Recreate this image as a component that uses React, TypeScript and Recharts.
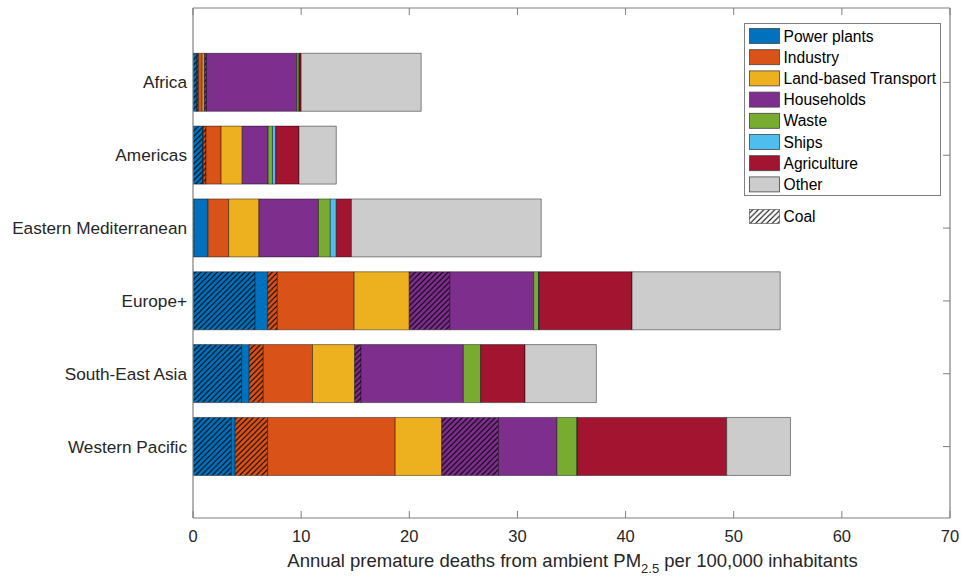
import React from 'react';
import { BarChart, Bar, XAxis, YAxis } from 'recharts';

// WHO regions, top to bottom
const regions = [
  'Africa',
  'Americas',
  'Eastern Mediterranean',
  'Europe+',
  'South-East Asia',
  'Western Pacific',
];

// Annual premature deaths per 100,000 inhabitants by source sector
const powerCoal = [0.35, 0.9, 0.1, 5.75, 4.5, 3.55];
const powerOther = [0.05, 0.05, 1.3, 1.15, 0.7, 0.35];
const industryCoal = [0.1, 0.25, 0, 0.9, 1.3, 3.0];
const industryOther = [0.35, 1.4, 1.9, 7.1, 4.55, 11.8];
const transport = [0.2, 1.95, 2.8, 5.1, 3.9, 4.3];
const householdsCoal = [0.2, 0, 0, 3.75, 0.6, 5.25];
const householdsOther = [8.35, 2.4, 5.5, 7.75, 9.45, 5.4];
const waste = [0.2, 0.4, 1.1, 0.45, 1.6, 1.85];
const ships = [0.05, 0.3, 0.55, 0.05, 0, 0.05];
const agriculture = [0.15, 2.15, 1.4, 8.6, 4.1, 13.8];
const other = [11.1, 3.45, 17.55, 13.7, 6.6, 5.9];

const sectorNames = [
  'Power plants',
  'Industry',
  'Land-based Transport',
  'Households',
  'Waste',
  'Ships',
  'Agriculture',
  'Other',
];
const sectorColors = [
  '#0072BD',
  '#D95319',
  '#EDB120',
  '#7E2F8E',
  '#77AC30',
  '#4DBEEE',
  '#A2142F',
  '#CCCCCC',
];

const xTicks = [0, 10, 20, 30, 40, 50, 60, 70];

// Stacking order; coal shares are drawn hatched in the sector colour
const series = [
  { key: 'powerCoal', values: powerCoal, sector: 0, coal: true },
  { key: 'powerOther', values: powerOther, sector: 0, coal: false },
  { key: 'industryCoal', values: industryCoal, sector: 1, coal: true },
  { key: 'industryOther', values: industryOther, sector: 1, coal: false },
  { key: 'transport', values: transport, sector: 2, coal: false },
  { key: 'householdsCoal', values: householdsCoal, sector: 3, coal: true },
  { key: 'householdsOther', values: householdsOther, sector: 3, coal: false },
  { key: 'waste', values: waste, sector: 4, coal: false },
  { key: 'ships', values: ships, sector: 5, coal: false },
  { key: 'agriculture', values: agriculture, sector: 6, coal: false },
  { key: 'other', values: other, sector: 7, coal: false },
];

const data = regions.map((region, i) => {
  const row: Record<string, string | number> = { region };
  series.forEach((s) => {
    row[s.key] = s.values[i];
  });
  return row;
});

const FONT = '"Liberation Sans", Arial, Helvetica, sans-serif';
const TEXT = '#262626';
const FRAME = '#7f7f7f';
const TICK_LEN = 7;
const HATCH = 5.5;

const hatchPath = `M0,${HATCH} L${HATCH},0 M${-HATCH / 4},${HATCH / 4} L${HATCH / 4},${-HATCH / 4} M${HATCH * 0.75},${HATCH * 1.25} L${HATCH * 1.25},${HATCH * 0.75}`;

const HatchPattern = ({ id, color }: { id: string; color: string }) => (
  <pattern id={id} width={HATCH} height={HATCH} patternUnits="userSpaceOnUse">
    <rect width={HATCH} height={HATCH} fill={color} />
    <path d={hatchPath} stroke="#000" strokeWidth={1.1} />
  </pattern>
);

const BottomTick = (props: any) => {
  const { x, y, payload } = props;
  return (
    <g>
      <line x1={x} y1={y} x2={x} y2={y - TICK_LEN} stroke={FRAME} strokeWidth={1} />
      <text x={x} y={y + 24} textAnchor="middle" fontSize={16.5} fontFamily={FONT} fill={TEXT}>
        {payload.value}
      </text>
    </g>
  );
};

const TopTick = (props: any) => {
  const { x, y } = props;
  return <line x1={x} y1={y} x2={x} y2={y + TICK_LEN} stroke={FRAME} strokeWidth={1} />;
};

const LeftTick = (props: any) => {
  const { x, y, payload } = props;
  return (
    <text x={x} y={y + 6} textAnchor="end" fontSize={17.2} fontFamily={FONT} fill={TEXT}>
      {payload.value}
    </text>
  );
};

const RightTick = (props: any) => {
  const { x, y } = props;
  return <line x1={x - TICK_LEN} y1={y} x2={x} y2={y} stroke={FRAME} strokeWidth={1} />;
};

const AxisTitle = (props: any) => {
  const { viewBox } = props;
  const cx = viewBox.x + viewBox.width / 2 + 1;
  return (
    <text x={cx} y={viewBox.y + 49} textAnchor="middle" fontSize={18.5} fontFamily={FONT} fill={TEXT}>
      Annual premature deaths from ambient PM
      <tspan dy={6} fontSize={13}>2.5</tspan>
      <tspan dy={-6}> per 100,000 inhabitants</tspan>
    </text>
  );
};

const LegendBox = () => {
  const rowH = 21.2;
  return (
    <svg
      width={963}
      height={579}
      style={{ position: 'absolute', left: 0, top: 0, pointerEvents: 'none' }}
    >
      <defs>
        <HatchPattern id="hatch-legend" color="#ffffff" />
      </defs>
      <rect x={744.5} y={23.5} width={196} height={172} fill="#fff" stroke={FRAME} strokeWidth={1} />
      {sectorNames.map((name, i) => {
        const cy = 36 + i * rowH;
        return (
          <g key={name}>
            <rect x={749.5} y={cy - 7.5} width={30} height={15} fill={sectorColors[i]} stroke="#444" strokeWidth={0.8} />
            <text x={783.5} y={cy + 5.5} fontSize={15.6} fontFamily={FONT} fill="#000">
              {name}
            </text>
          </g>
        );
      })}
      <rect x={749.5} y={209.5} width={30} height={14} fill="url(#hatch-legend)" stroke="#444" strokeWidth={0.6} />
      <text x={783.5} y={222} fontSize={15.6} fontFamily={FONT} fill="#000">
        Coal
      </text>
    </svg>
  );
};

export default function App() {
  return (
    <div style={{ position: 'absolute', left: 0, top: 0, width: 963, height: 579, background: '#fff' }}>
      <BarChart
        width={963}
        height={579}
        data={data}
        layout="vertical"
        margin={{ top: 0, right: 0, bottom: 0, left: 0 }}
        barCategoryGap="10%"
      >
        <defs>
          {sectorColors.map((c, i) => (
            <HatchPattern key={i} id={`hatch-${i}`} color={c} />
          ))}
        </defs>
        <XAxis
          type="number"
          domain={[0, 70]}
          ticks={xTicks}
          allowDataOverflow
          height={61}
          tickLine={false}
          tickSize={0}
          tickMargin={0}
          tick={<BottomTick />}
          axisLine={{ stroke: FRAME, strokeWidth: 1.2 }}
          label={{ content: <AxisTitle /> } as any}
        />
        <XAxis
          xAxisId="top"
          orientation="top"
          type="number"
          domain={[0, 70]}
          ticks={xTicks}
          allowDataOverflow
          height={8}
          tickLine={false}
          tickSize={0}
          tickMargin={0}
          tick={<TopTick />}
          axisLine={{ stroke: FRAME, strokeWidth: 1.2 }}
        />
        <YAxis
          type="category"
          dataKey="region"
          width={193}
          padding={{ top: 38, bottom: 35 }}
          tickLine={false}
          tickSize={0}
          tickMargin={6}
          tick={<LeftTick />}
          axisLine={{ stroke: FRAME, strokeWidth: 1.2 }}
        />
        <YAxis
          yAxisId="right"
          orientation="right"
          type="category"
          dataKey="region"
          width={13}
          padding={{ top: 38, bottom: 35 }}
          tickLine={false}
          tickSize={0}
          tickMargin={0}
          tick={<RightTick />}
          axisLine={{ stroke: FRAME, strokeWidth: 1.2 }}
        />
        {series.map((s) => (
          <Bar
            key={s.key}
            dataKey={s.key}
            stackId="sectors"
            fill={s.coal ? `url(#hatch-${s.sector})` : sectorColors[s.sector]}
            stroke="rgba(0,0,0,0.55)"
            strokeWidth={0.8}
            isAnimationActive={false}
          />
        ))}
      </BarChart>
      <LegendBox />
    </div>
  );
}
